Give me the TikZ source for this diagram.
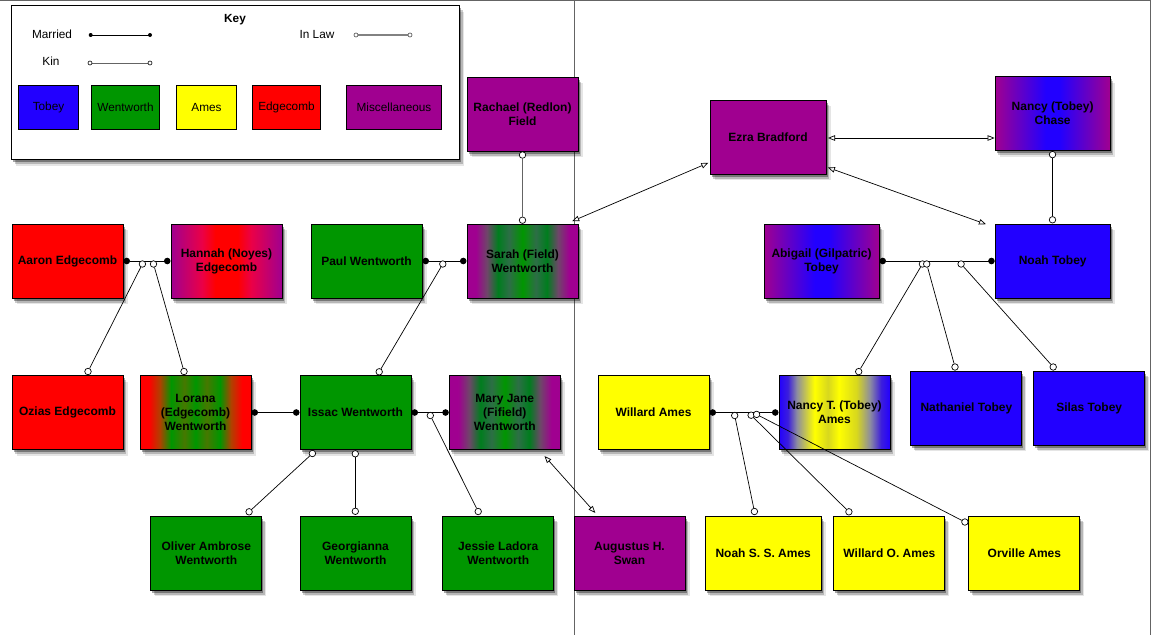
\documentclass[tikz,border=0pt]{standalone}
\usepackage{fontspec}
\setmainfont{Liberation Sans}
\usetikzlibrary{arrows.meta,shadows,calc}

\definecolor{tblue}{RGB}{34,0,255}
\definecolor{wgreen}{RGB}{0,150,0}
\definecolor{ayellow}{RGB}{255,255,0}
\definecolor{ered}{RGB}{255,0,0}
\definecolor{mpurple}{RGB}{160,0,144}
\definecolor{pinkred}{RGB}{235,0,70}
\definecolor{graypurp}{RGB}{110,70,105}
\definecolor{dkgreen}{RGB}{0,125,30}
\definecolor{gygreen}{RGB}{45,110,70}
\definecolor{brn}{RGB}{175,65,0}
\definecolor{olv}{RGB}{70,120,0}
\definecolor{grayblue}{RGB}{140,140,160}
\definecolor{olivey}{RGB}{215,215,30}
\definecolor{blueb}{RGB}{60,30,220}
\definecolor{framec}{RGB}{100,100,100}
\definecolor{inlawc}{RGB}{130,130,130}

\pgfdeclarehorizontalshading{hannahS}{100bp}{color(0bp)=(mpurple); color(25bp)=(mpurple); color(39bp)=(pinkred); color(45bp)=(ered); color(55bp)=(ered); color(61bp)=(pinkred); color(75bp)=(mpurple); color(100bp)=(mpurple)}
\pgfdeclarehorizontalshading{sarahS}{100bp}{color(0bp)=(mpurple); color(25bp)=(mpurple); color(29bp)=(mpurple); color(34bp)=(graypurp); color(39bp)=(dkgreen); color(44bp)=(gygreen); color(50bp)=(wgreen); color(56bp)=(gygreen); color(61bp)=(dkgreen); color(66bp)=(graypurp); color(71bp)=(mpurple); color(75bp)=(mpurple); color(100bp)=(mpurple)}
\pgfdeclarehorizontalshading{loranaS}{100bp}{color(0bp)=(ered); color(25bp)=(ered); color(29bp)=(ered); color(34bp)=(brn); color(39bp)=(wgreen); color(45bp)=(olv); color(50bp)=(wgreen); color(55bp)=(olv); color(61bp)=(wgreen); color(66bp)=(brn); color(71bp)=(ered); color(75bp)=(ered); color(100bp)=(ered)}
\pgfdeclarehorizontalshading{blueS}{100bp}{color(0bp)=(mpurple); color(25bp)=(mpurple); color(47bp)=(tblue); color(53bp)=(tblue); color(75bp)=(mpurple); color(100bp)=(mpurple)}
\pgfdeclarehorizontalshading{nancytS}{100bp}{color(0bp)=(tblue); color(25bp)=(tblue); color(29bp)=(blueb); color(33bp)=(grayblue); color(41bp)=(ayellow); color(47bp)=(olivey); color(52bp)=(ayellow); color(60bp)=(olivey); color(66bp)=(grayblue); color(71bp)=(blueb); color(75bp)=(tblue); color(100bp)=(tblue)}

\newcommand\nodefnt{\bfseries\fontsize{12}{14}\selectfont}
\newcommand\keyfnt{\fontsize{11.8}{14}\selectfont}

\begin{document}
\begin{tikzpicture}[x=1pt,y=-1pt,
  shd/.style={drop shadow={shadow xshift=1.5pt,shadow yshift=-2.5pt,opacity=0.35,fill=black},
              drop shadow={shadow xshift=3pt,shadow yshift=-4.5pt,opacity=0.2,fill=black},
              drop shadow={shadow xshift=4.5pt,shadow yshift=-6pt,opacity=0.1,fill=black}},
  box/.style={draw=black, line width=1pt, minimum width=111pt, minimum height=74pt,
              inner sep=1pt, align=center, font=\nodefnt, shd},
  keybox/.style={draw=black, line width=0.8pt, minimum height=44pt, font=\keyfnt},
  kc/.style={circle, draw=black, fill=white, line width=0.7pt, inner sep=0pt, minimum size=6.5pt},
  kin/.style={line width=0.7pt},
  married/.style={line width=1pt, {Circle[length=6.5pt]}-{Circle[length=6.5pt]}},
  inlaw/.style={line width=0.7pt, {Triangle[length=7pt,width=5.5pt,fill=white]}-{Triangle[length=7pt,width=5.5pt,fill=white]}},
  framel/.style={draw=framec, line width=1.2pt},
]
\useasboundingbox (0,0) rectangle (1152,635);

% frame and divider
\draw[framel] (0,0.6) -- (1151,0.6);
\draw[framel] (1150.4,0) -- (1150.4,635);
\draw[draw=framec, line width=0.8pt] (574.5,0) -- (574.5,635);

% key
\node[draw=black, line width=1pt, fill=white, shd, minimum width=448pt, minimum height=154pt] (key) at (235.5,82.5) {};
\node[font=\bfseries\fontsize{11.8}{14}\selectfont] (keyt) at (235,20) {Key};
\node[font=\keyfnt] (kmar) at (52,34) {Married};
\node[font=\keyfnt] (kkin) at (51,61.5) {Kin};
\node[font=\keyfnt] (kinl) at (317,34) {In Law};
\coordinate (m1) at (90.7,35);
\coordinate (m2) at (150,35);
\draw[line width=0.7pt] (m1) -- (m2);
\fill (m1) circle (2pt);
\fill (m2) circle (2pt);
\coordinate (c1) at (90,63);
\coordinate (c2) at (150,63);
\draw[line width=0.7pt, draw=framec] (c1) -- (c2);
\draw[line width=0.6pt, fill=white] (c1) circle (2pt);
\draw[line width=0.6pt, fill=white] (c2) circle (2pt);
\coordinate (l1) at (356,35);
\coordinate (l2) at (410,35);
\draw[line width=1.2pt, draw=inlawc] (l1) -- (l2);
\draw[line width=0.7pt, draw=framec, fill=white] (l1) circle (2pt);
\draw[line width=0.7pt, draw=framec, fill=white] (l2) circle (2pt);
\node[keybox, fill=tblue, minimum width=59.5pt] (kt) at (48.5,107.5) {Tobey};
\node[keybox, fill=wgreen, minimum width=67.5pt] (kw) at (125.5,107.5) {Wentworth};
\node[keybox, fill=ayellow, minimum width=59.5pt] (ka) at (206.5,107.5) {Ames};
\node[keybox, fill=ered, minimum width=67.5pt] (ke) at (286.5,107.5) {Edgecomb};
\node[keybox, fill=mpurple, minimum width=94.5pt] (km) at (394,107.5) {Miscellaneous};

% people
\node[box, fill=ered] (aaron) at (67.5,261) {Aaron Edgecomb};
\node[box, shade, shading=hannahS] (hannah) at (226.5,261) {Hannah (Noyes)\\Edgecomb};
\node[box, fill=wgreen] (paul) at (366.5,261) {Paul Wentworth};
\node[box, shade, shading=sarahS] (sarah) at (522.5,261) {Sarah (Field)\\Wentworth};
\node[box, fill=mpurple] (rachael) at (522.5,114) {Rachael (Redlon)\\Field};
\node[box, fill=ered] (ozias) at (67.5,412.5) {Ozias Edgecomb};
\node[box, shade, shading=loranaS] (lorana) at (195.5,412.5) {Lorana\\(Edgecomb)\\Wentworth};
\node[box, fill=wgreen] (issac) at (355.5,412.5) {Issac Wentworth};
\node[box, shade, shading=sarahS] (maryjane) at (504.8,412.5) {Mary Jane\\(Fifield)\\Wentworth};
\node[box, fill=wgreen] (oliver) at (206.3,553) {Oliver Ambrose\\Wentworth};
\node[box, fill=wgreen] (georgianna) at (355.5,553) {Georgianna\\Wentworth};
\node[box, fill=wgreen] (jessie) at (498.2,553) {Jessie Ladora\\Wentworth};
\node[box, fill=mpurple] (augustus) at (629.5,553) {Augustus H.\\Swan};
\node[box, fill=mpurple, minimum width=116pt] (ezra) at (768,137) {Ezra Bradford};
\node[box, shade, shading=blueS, minimum width=115pt] (nancyc) at (1052.6,113.5) {Nancy (Tobey)\\Chase};
\node[box, shade, shading=blueS, minimum width=115pt] (abigail) at (821.5,261) {Abigail (Gilpatric)\\Tobey};
\node[box, fill=tblue, minimum width=115pt] (noah) at (1052.7,261) {Noah Tobey};
\node[box, fill=ayellow] (willard) at (653.5,412.5) {Willard Ames};
\node[box, shade, shading=nancytS] (nancyt) at (834.5,412.5) {Nancy T. (Tobey)\\Ames};
\node[box, fill=tblue] (nathaniel) at (966.4,408) {Nathaniel Tobey};
\node[box, fill=tblue] (silas) at (1089.2,408) {Silas Tobey};
\node[box, fill=ayellow, minimum width=116pt] (noahss) at (763.2,553) {Noah S. S. Ames};
\node[box, fill=ayellow] (willardo) at (889.4,553) {Willard O. Ames};
\node[box, fill=ayellow] (orville) at (1024.4,553) {Orville Ames};

% married
\draw[married] (aaron.east) -- (hannah.west);
\draw[married] (paul.east) -- (sarah.west);
\draw[married] (lorana.east) -- (issac.west);
\draw[married] (issac.east) -- (maryjane.west);
\draw[married] (abigail.east) -- (noah.west);
\draw[married] (willard.east) -- (nancyt.west);

% kin
\node[kc] (kA1) at (142.4,264) {};
\node[kc] (kA2) at (153.5,264) {};
\node[kc] (ozT) at (88,371.5) {};
\node[kc] (loT) at (184,371.5) {};
\draw[kin] (kA1) -- (ozT);
\draw[kin] (kA2) -- (loT);

\node[kc] (kP) at (442.8,264) {};
\node[kc] (isT) at (379.2,371.8) {};
\draw[kin] (kP) -- (isT);

\node[kc] (kI) at (430.3,415.5) {};
\node[kc] (jeT) at (478.2,511.5) {};
\draw[kin] (kI) -- (jeT);

\node[kc] (isB1) at (312.4,453.5) {};
\node[kc] (isB2) at (355.3,453.8) {};
\node[kc] (olT) at (249.1,511.8) {};
\node[kc] (geT) at (355.3,511.3) {};
\draw[kin] (isB1) -- (olT);
\draw[kin] (isB2) -- (geT);

\node[kc] (raB) at (522.5,155) {};
\node[kc] (saT) at (522.5,220.2) {};
\draw[kin, draw=framec] (raB) -- (saT);

\node[kc] (ncB) at (1052.5,154.6) {};
\node[kc] (noT) at (1052.5,219.8) {};
\draw[kin] (ncB) -- (noT);

\node[kc] (kN1) at (922.4,264) {};
\node[kc] (kN2) at (926.7,264) {};
\node[kc] (kN3) at (961.1,264) {};
\node[kc] (ntT) at (858.7,371.6) {};
\node[kc] (naT) at (955,367) {};
\node[kc] (siT) at (1053.2,367) {};
\draw[kin] (kN1) -- (ntT);
\draw[kin] (kN2) -- (naT);
\draw[kin] (kN3) -- (siT);

\node[kc] (kW1) at (734.7,415.5) {};
\node[kc] (kW2) at (751.1,415.2) {};
\node[kc] (kW3) at (756.6,414.4) {};
\node[kc] (nsT) at (754.4,511.5) {};
\node[kc] (woT) at (848.9,511.8) {};
\node[kc] (orL) at (964.9,522) {};
\draw[kin] (kW1) -- (nsT);
\draw[kin] (kW2) -- (woT);
\draw[kin] (kW3) -- (orL);

% in law
\draw[inlaw] ([xshift=-6.3pt,yshift=2.3pt]sarah.north east) -- ([xshift=-1.2pt,yshift=11.6pt]ezra.south west);
\draw[inlaw] ([xshift=1.5pt,yshift=-1pt]ezra.east) -- ([yshift=13pt]nancyc.south west);
\draw[inlaw] ([xshift=1.4pt,yshift=7pt]ezra.south east) -- ([xshift=-8.7pt,yshift=-0.7pt]noah.north west);
\draw[inlaw] ([xshift=-16.3pt,yshift=-6pt]maryjane.south east) -- ([xshift=21.8pt,yshift=2.6pt]augustus.north west);
\end{tikzpicture}
\end{document}
